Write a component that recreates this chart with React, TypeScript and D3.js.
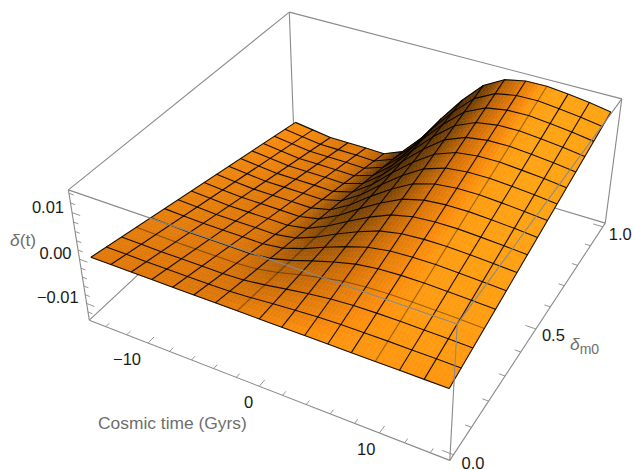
import React from "react";
import * as d3 from "d3";

// ---- data ----
const tMesh = [-15, -13.13, -11.26, -9.39, -7.52, -5.65, -3.78, -1.91, -0.04, 1.83, 3.7, 5.57, 7.44, 9.31, 11.18, 13.05, 14.92];
const mMesh = [0, 0.0625, 0.125, 0.1875, 0.25, 0.3125, 0.375, 0.4375, 0.5, 0.5625, 0.625, 0.6875, 0.75, 0.8125, 0.875, 0.9375, 1];
const nearEdge = [0, 0, 0, 0, 0, 0, 0, 0, 0, 0, 0, 0, 0, 0, 0, 0, 0];
const farEdge = [-0.0108, -0.0114, -0.012, -0.012, -0.012, -0.0121, -0.0102, -0.0055, 0.0005, 0.006, 0.0106, 0.0131, 0.014, 0.0141, 0.0136, 0.013, 0.0122];
const tMajor = [-10, 0, 10];
const tMinor = [-14, -12, -8, -6, -4, -2, 2, 4, 6, 8, 12, 14];
const mMajor = [0, 0.5, 1];
const mMinor = [0.1, 0.2, 0.3, 0.4, 0.6, 0.7, 0.8, 0.9];
const zMajor = [-0.01, 0, 0.01];
const zMinor = [-0.012, -0.008, -0.006, -0.004, -0.002, 0.002, 0.004, 0.006, 0.008, 0.012, 0.014];
const faintT = [7, 13];
const faintM = [3];
const tDomain: [number, number] = [-15.6, 15.5];
const zDomain: [number, number] = [-0.0139, 0.0147];

// camera calibration: the box corners as they appear on screen
const calibration: [number, number, number, number, number][] = [
  [0, 0, 0, 89, 320],
  [1, 0, 0, 450, 460.5],
  [1, 1, 0, 605, 223],
  [0, 1, 0, 294, 130],
  [0, 0, 1, 68.7, 190],
  [1, 0, 1, 457, 324],
  [1, 1, 1, 622, 99],
  [0, 1, 1, 289, 12],
];

function solve(A: number[][], b: number[]) {
  const n = b.length;
  const M = A.map((r, i) => [...r, b[i]]);
  for (let c = 0; c < n; c++) {
    let p = c;
    for (let r = c + 1; r < n; r++) if (Math.abs(M[r][c]) > Math.abs(M[p][c])) p = r;
    [M[c], M[p]] = [M[p], M[c]];
    for (let r = 0; r < n; r++) {
      if (r === c) continue;
      const k = M[r][c] / M[c][c];
      for (let q = c; q <= n; q++) M[r][q] -= k * M[c][q];
    }
  }
  return M.map((r, i) => r[n] / r[i]);
}

function fitCamera() {
  const rows: number[][] = [];
  const rhs: number[] = [];
  for (const [u, v, w, x, y] of calibration) {
    rows.push([u, v, w, 1, 0, 0, 0, 0, -x * u, -x * v, -x * w]);
    rhs.push(x);
    rows.push([0, 0, 0, 0, u, v, w, 1, -y * u, -y * v, -y * w]);
    rhs.push(y);
  }
  const N = 11;
  const AtA = d3.range(N).map((a) => d3.range(N).map((b) => d3.sum(rows, (r) => r[a] * r[b])));
  const Atb = d3.range(N).map((a) => d3.sum(rows, (r, i) => r[a] * rhs[i]));
  return solve(AtA, Atb);
}

const P = fitCamera();
const uScale = d3.scaleLinear().domain(tDomain).range([0, 1]);
const vScale = d3.scaleLinear().domain([0, 1]).range([0.0192, 0.9808]);
const wScale = d3.scaleLinear().domain(zDomain).range([0, 1]);

function projectUnit(u: number, v: number, w: number): [number, number] {
  const d = P[8] * u + P[9] * v + P[10] * w + 1;
  return [(P[0] * u + P[1] * v + P[2] * w + P[3]) / d, (P[4] * u + P[5] * v + P[6] * w + P[7]) / d];
}
const project = (t: number, m: number, z: number) => projectUnit(uScale(t), vScale(m), wScale(z));

// surface height: each constant-t line runs straight from the near edge to the far edge
const height = (i: number, m: number) => d3.scaleLinear().domain([0, 1]).range([nearEdge[i], farEdge[i]])(m);

const boxH = 0.5;
const tSlope = tMesh.map((_, i) => {
  const a = Math.max(i - 1, 0);
  const b = Math.min(i + 1, 16);
  return ((wScale(farEdge[b]) - wScale(farEdge[a])) * boxH) / (uScale(tMesh[b]) - uScale(tMesh[a]));
});

const L = [0.63, -0.3, 0.72];
const shadeScale = d3
  .scaleLinear<string>()
  .domain([-0.1, 0.2, 0.4, 0.62, 0.72, 0.75, 0.78, 0.84])
  .range(["#4a2600", "#7a4203", "#a85a05", "#d97307", "#ee840b", "#fb8c0c", "#ff9a10", "#ffa313"])
  .clamp(true);

function shade(i: number, a: number, m: number) {
  const s1 = tSlope[i] * (1 - a) + tSlope[i + 1] * a;
  const fv = (farEdge[i] * (1 - a) + farEdge[i + 1] * a) / (zDomain[1] - zDomain[0]);
  const nx = -s1 * m;
  const ny = -fv * boxH;
  const len = Math.hypot(nx, ny, 1);
  const v = (nx * L[0] + ny * L[1] + L[2]) / len;
  return shadeScale(v);
}

function buildPatches() {
  const out: { d: string; c: string }[] = [];
  const subT = 6;
  const subM = 3;
  const gen = d3.line();
  for (let i = 0; i < 16; i++) {
    for (let a = 0; a < subT; a++) {
      const a0 = a / subT;
      const a1 = (a + 1) / subT;
      for (let j = 15; j >= 0; j--) {
        for (let b = subM - 1; b >= 0; b--) {
          const m0 = mMesh[j] + ((mMesh[j + 1] - mMesh[j]) * b) / subM;
          const m1 = mMesh[j] + ((mMesh[j + 1] - mMesh[j]) * (b + 1)) / subM;
          const pt = (aa: number, m: number) =>
            project(
              tMesh[i] + (tMesh[i + 1] - tMesh[i]) * aa,
              m,
              height(i, m) * (1 - aa) + height(i + 1, m) * aa
            );
          const poly = [pt(a0, m0), pt(a1, m0), pt(a1, m1), pt(a0, m1), pt(a0, m0)];
          out.push({ d: gen(poly) as string, c: shade(i, (a0 + a1) / 2, (m0 + m1) / 2) });
        }
      }
    }
  }
  return out;
}

const labelFont = "'Liberation Sans', Arial, sans-serif";
const gray = "#8a8a8a";
const mLabelDx = d3.scaleLinear().domain([0, 0.5, 1]).range([8, 6, 6]);
const mLabelDy = d3.scaleLinear().domain([0, 0.5, 1]).range([14, 12, 13]);

export default function App() {
  const patches = buildPatches();
  const line = d3.line();
  const E = projectUnit(0, 0, 0), F = projectUnit(1, 0, 0), G = projectUnit(1, 1, 0), H = projectUnit(0, 1, 0);
  const A = projectUnit(0, 0, 1), D = projectUnit(1, 0, 1), C = projectUnit(1, 1, 1), B = projectUnit(0, 1, 1);
  const edge = (p: [number, number], q: [number, number], k: string) => (
    <path key={k} d={line([p, q]) as string} stroke={gray} strokeWidth={1.1} fill="none" />
  );
  const tick = (p: [number, number], q: [number, number], k: string) => (
    <path key={k} d={line([p, q]) as string} stroke={gray} strokeWidth={0.9} fill="none" />
  );
  const tTicks = [
    ...tMajor.map((t) => tick(projectUnit(uScale(t), 0, 0), projectUnit(uScale(t), 0.025, 0), "tM" + t)),
    ...tMinor.map((t) => tick(projectUnit(uScale(t), 0, 0), projectUnit(uScale(t), 0.015, 0), "tm" + t)),
  ];
  const mTicks = [
    ...mMajor.map((m) => tick(projectUnit(1, vScale(m), 0), projectUnit(0.972, vScale(m), 0), "mM" + m)),
    ...mMinor.map((m) => tick(projectUnit(1, vScale(m), 0), projectUnit(0.984, vScale(m), 0), "mm" + m)),
  ];
  const zTicks = [
    ...zMajor.map((z) => tick(projectUnit(0, 0, wScale(z)), projectUnit(0.024, 0, wScale(z)), "zM" + z)),
    ...zMinor.map((z) => tick(projectUnit(0, 0, wScale(z)), projectUnit(0.014, 0, wScale(z)), "zm" + z)),
  ];
  const tLabelText = (t: number) => (t < 0 ? "\u2212" + Math.abs(t) : String(t));
  const zLabelText = (z: number) => (z < 0 ? "\u2212" + Math.abs(z).toFixed(2) : z.toFixed(2));

  const constM = mMesh.map((m) => line(tMesh.map((t, i) => project(t, m, height(i, m)))) as string);
  const constT = tMesh.map((t, i) =>
    line([project(t, mMesh[0], height(i, mMesh[0])), project(t, mMesh[16], height(i, mMesh[16]))]) as string
  );

  return (
    <svg width={634} height={470} style={{ position: "absolute", left: 0, top: 0, display: "block" }} fontFamily={labelFont}>
      <rect width={634} height={470} fill="#ffffff" />
      {/* back edges */}
      {edge(A, B, "ab")}
      {edge(B, C, "bc")}
      {edge(B, H, "bh")}
      {edge(E, H, "eh")}
      {edge(H, G, "hg")}
      {edge(E, A, "ea")}
      {edge(E, F, "ef")}
      {edge(F, G, "fg")}
      {edge(C, G, "cg")}
      {tTicks}
      {mTicks}
      {zTicks}
      {/* surface */}
      <g>
        {patches.map((p, k) => (
          <path key={k} d={p.d} fill={p.c} stroke={p.c} strokeWidth={0.5} strokeLinejoin="round" />
        ))}
      </g>
      <g fill="none" stroke="#000" strokeLinejoin="round">
        {constM.map((d, j) => (
          <path key={j} d={d} strokeWidth={1.1} strokeOpacity={faintM.includes(j) ? 0.4 : 0.9} />
        ))}
        {constT.map((d, i) => (
          <path key={i} d={d} strokeWidth={1.1} strokeOpacity={faintT.includes(i) ? 0.4 : 0.9} />
        ))}
      </g>
      {/* front edges over the surface */}
      {edge(A, D, "ad")}
      {edge(D, C, "dc")}
      {edge(D, F, "df")}
      {/* tick labels */}
      <g fontSize={16.5} fill="#1a1a1a">
        {tMajor.map((t) => {
          const p = projectUnit(uScale(t), 0, 0);
          return (
            <text key={t} x={p[0] - (t > 0 ? 4 : t === 0 ? 6 : 7)} y={p[1] + 22} textAnchor="end">
              {tLabelText(t)}
            </text>
          );
        })}
        {mMajor.map((m) => {
          const p = projectUnit(1, vScale(m), 0);
          return (
            <text key={m} x={p[0] + mLabelDx(m)} y={p[1] + mLabelDy(m)} textAnchor="start">
              {m.toFixed(1)}
            </text>
          );
        })}
        {zMajor.map((z) => {
          const p = projectUnit(0, 0, wScale(z));
          return (
            <text key={z} x={p[0] - 8} y={p[1]} textAnchor="end">
              {zLabelText(z)}
            </text>
          );
        })}
      </g>
      {/* axis labels */}
      <g fill="#6e6e6e" fontSize={17.4}>
        <text x={98} y={429}>Cosmic time (Gyrs)</text>
        <text x={10} y={246}>
          <tspan fontStyle="italic">{"\u03b4"}</tspan>
          (t)
        </text>
        <text x={570} y={350}>
          <tspan fontStyle="italic">{"\u03b4"}</tspan>
          <tspan fontSize={14} dy={4}>m0</tspan>
        </text>
      </g>
    </svg>
  );
}
